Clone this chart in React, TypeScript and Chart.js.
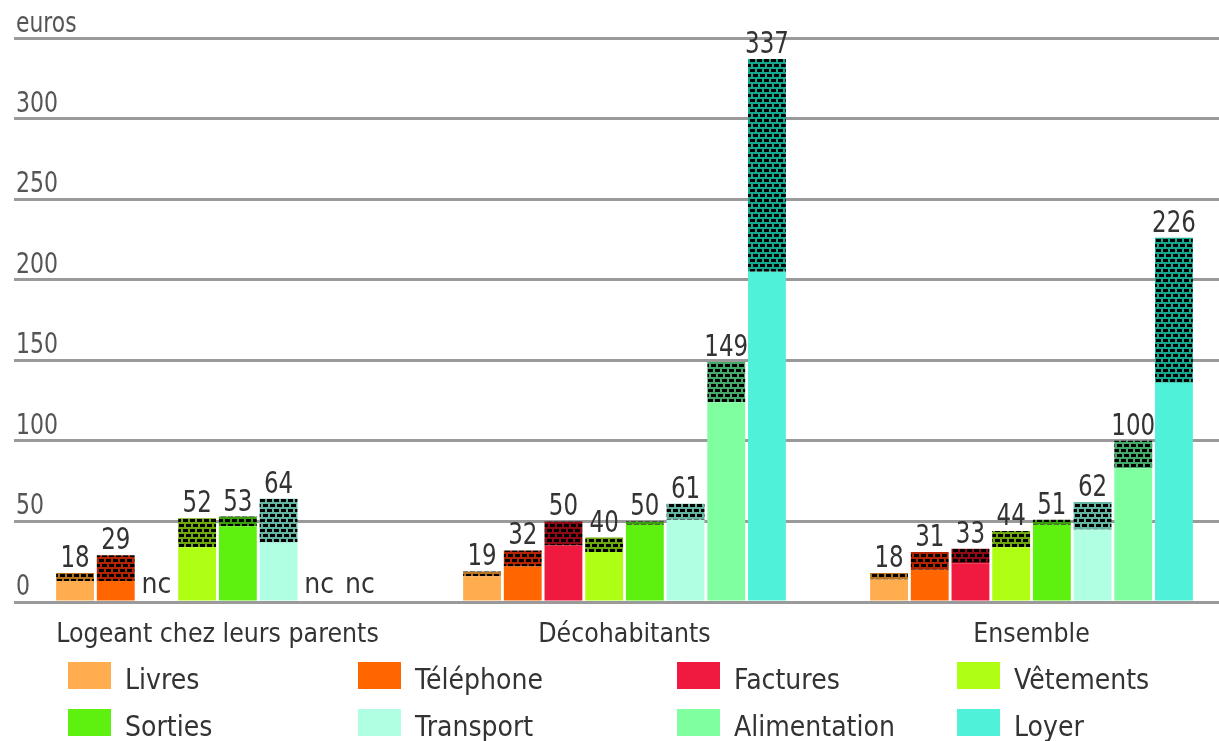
import { useEffect, useRef } from 'react';
import { Chart, registerables } from 'chart.js';

Chart.register(...registerables);

// ---- data ----
const categories = ['Logeant chez leurs parents', 'Décohabitants', 'Ensemble'];
const seriesNames = ['Livres', 'Téléphone', 'Factures', 'Vêtements', 'Sorties', 'Transport', 'Alimentation', 'Loyer'];
const seriesColors = ['#FFAD4F', '#FF6600', '#F0193F', '#AEFF14', '#5EF00F', '#B0FFE3', '#80FFA0', '#4FF2D8'];
const hatchColors = ['#B8741E', '#B52400', '#8E0A14', '#6DA80C', '#3AA00A', '#62B5A2', '#44AA6A', '#14A890'];

// totals shown above bars (null = nc)
const livres = [18, 19, 18];
const telephone = [29, 32, 31];
const factures = [null, 50, 33];
const vetements = [52, 40, 44];
const sorties = [53, 50, 51];
const transport = [64, 61, 62];
const alimentation = [null, 149, 100];
const loyer = [null, 337, 226];

// solid (lower) part of each bar; the rest up to the total is hatched
const livresBase = [13, 16, 14];
const telephoneBase = [13, 22, 20];
const facturesBase = [null, 35, 24];
const vetementsBase = [34, 31, 34];
const sortiesBase = [47, 48, 48];
const transportBase = [37, 51, 45];
const alimentationBase = [null, 124, 83];
const loyerBase = [null, 205, 136];

const yTicks = [0, 50, 100, 150, 200, 250, 300];
const yMax = 350;
const yUnit = 'euros';
const naLabel = 'nc';

const totals = [livres, telephone, factures, vetements, sorties, transport, alimentation, loyer];
const bases = [livresBase, telephoneBase, facturesBase, vetementsBase, sortiesBase, transportBase, alimentationBase, loyerBase];

const FONT = '"DejaVu Sans", sans-serif';

function makePattern(color: string): CanvasPattern | string {
  const tile = document.createElement('canvas');
  tile.width = 14;
  tile.height = 10;
  const c = tile.getContext('2d');
  if (!c) return color;
  c.fillStyle = color;
  c.fillRect(0, 0, 14, 10);
  c.fillStyle = '#000';
  // row A: dashes
  c.fillRect(0, 1, 5, 3);
  c.fillRect(7, 1, 5, 3);
  // row B: offset bricks
  c.fillRect(-4, 6, 5, 3);
  c.fillRect(3, 6, 5, 3);
  c.fillRect(10, 6, 5, 3);
  const p = c.createPattern(tile, 'repeat');
  return p || color;
}

function drawText(ctx: CanvasRenderingContext2D, s: string, x: number, y: number, size: number, color: string, align: CanvasTextAlign, sx = 1) {
  ctx.save();
  ctx.font = `${size}px ${FONT}`;
  ctx.fillStyle = color;
  ctx.textBaseline = 'alphabetic';
  ctx.textAlign = align;
  ctx.translate(x, y);
  ctx.scale(sx, 1);
  ctx.fillText(s, 0, 0);
  ctx.restore();
}

const labelsPlugin = {
  id: 'customLabels',
  afterDraw(chart: any) {
    const ctx: CanvasRenderingContext2D = chart.ctx;
    const yScale = chart.scales.y;
    const xScale = chart.scales.x;
    // y tick labels above grid lines
    yTicks.forEach((v) => {
      drawText(ctx, String(v), 8, yScale.getPixelForValue(v) - 7, 29, '#555', 'left', 0.76);
    });
    drawText(ctx, yUnit, 8, yScale.getPixelForValue(yMax) - 6, 28, '#555', 'left', 0.78);

    // value labels
    totals.forEach((arr, i) => {
      const meta = chart.getDatasetMeta(i * 2 + 1);
      arr.forEach((v, j) => {
        const el = meta.data[j];
        if (!el) return;
        const x = el.x;
        if (v === null || v === undefined) {
          drawText(ctx, naLabel, x, yScale.getPixelForValue(0) - 9, 28, '#333', 'center', 0.9);
        } else {
          drawText(ctx, String(v), x, yScale.getPixelForValue(v) - 6, 31, '#333', 'center', 0.74);
        }
      });
    });

    // category labels
    categories.forEach((c, j) => {
      drawText(ctx, c, xScale.getPixelForValue(j), 634, 27, '#333', 'center', 0.88);
    });

    // legend
    const colX = [60, 350, 669, 949];
    const rowY = [654, 701];
    seriesNames.forEach((name, i) => {
      const col = i % 4;
      const row = Math.floor(i / 4);
      const bx = colX[col];
      const by = rowY[row];
      ctx.fillStyle = seriesColors[i];
      ctx.fillRect(bx, by, 43, 27);
      drawText(ctx, name, bx + 57, by + 27, 28, '#333', 'left', 0.9);
    });
  },
};

export default function App() {
  const ref = useRef<HTMLCanvasElement | null>(null);
  useEffect(() => {
    if (!ref.current) return;
    const datasets: any[] = [];
    seriesNames.forEach((name, i) => {
      datasets.push({
        label: name,
        data: bases[i],
        backgroundColor: seriesColors[i],
        stack: name,
        borderWidth: 0,
      });
      datasets.push({
        label: name + ' (hachuré)',
        data: totals[i].map((t, j) => (t === null || bases[i][j] === null ? null : (t as number) - (bases[i][j] as number))),
        backgroundColor: makePattern(hatchColors[i]),
        stack: name,
        borderWidth: 0,
      });
    });
    const chart = new Chart(ref.current, {
      type: 'bar',
      data: { labels: categories, datasets },
      options: {
        responsive: false,
        animation: false,
        devicePixelRatio: 1,
        layout: { padding: { left: 6, right: 0, top: 30, bottom: 139 } },
        datasets: { bar: { categoryPercentage: 0.8, barPercentage: 0.93 } },
        plugins: { legend: { display: false }, tooltip: { enabled: false } },
        scales: {
          x: { display: false },
          y: {
            stacked: true,
            min: 0,
            max: yMax,
            ticks: { display: false, stepSize: 50 },
            grid: { color: '#9a9a9a', lineWidth: 3, drawTicks: false },
            border: { display: false },
            afterFit: (s: any) => {
              s.width = 0;
            },
          },
        },
      },
      plugins: [labelsPlugin],
    } as any);
    return () => chart.destroy();
  }, []);
  return (
    <div style={{ position: 'absolute', left: 8, top: 8, width: 1211, height: 733, overflow: 'hidden', background: '#fff' }}>
      <canvas ref={ref} width={1227} height={733} style={{ width: 1227, height: 733, display: 'block' }} />
    </div>
  );
}
